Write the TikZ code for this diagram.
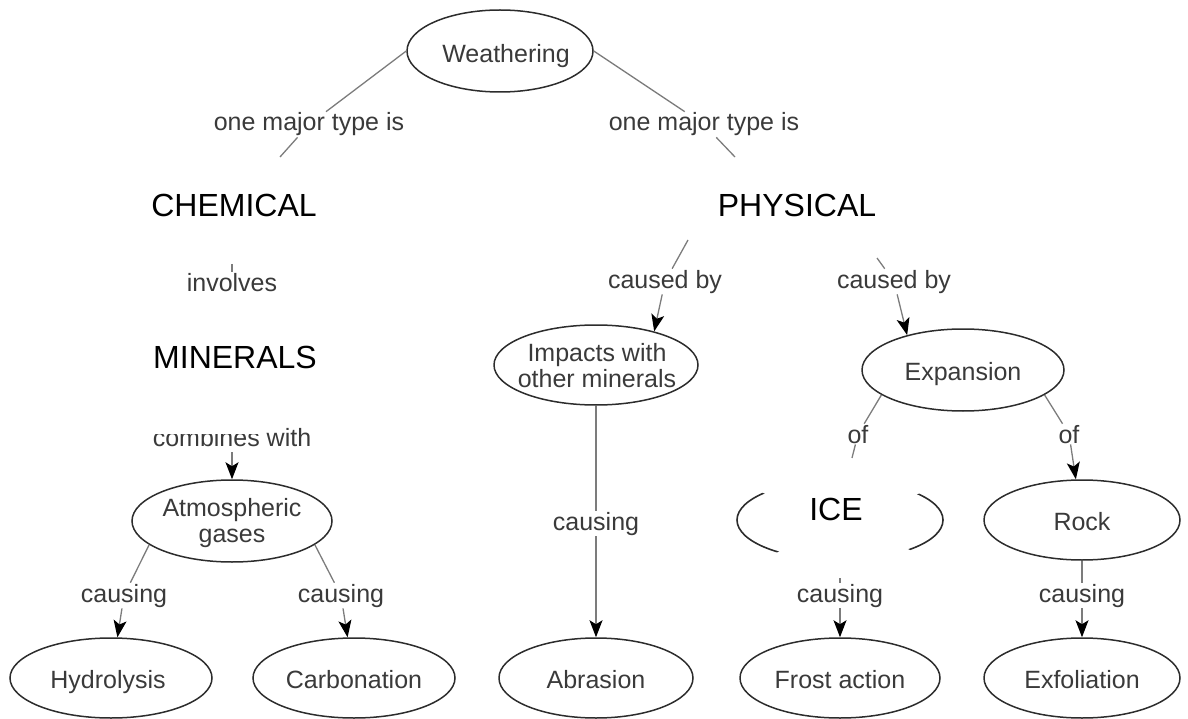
\documentclass[tikz,border=0pt]{standalone}
\usepackage{fontspec}
\setmainfont{Liberation Sans}
\usetikzlibrary{shapes.geometric,arrows.meta}
\definecolor{txtc}{HTML}{3A3A3A}
\definecolor{edgec}{HTML}{2C2C2C}
\definecolor{connc}{HTML}{7C7C7C}
\begin{document}
\begin{tikzpicture}[x=1pt,y=-1pt,
  ell/.style={ellipse, draw=edgec, line width=1.5pt, inner sep=0pt, minimum height=80pt},
  lab/.style={font=\fontsize{25}{27}\selectfont, text=txtc, inner sep=0pt, anchor=base},
  rel/.style={font=\fontsize{25}{27}\selectfont, text=txtc, fill=white, inner sep=1pt, anchor=base},
  big/.style={font=\fontsize{32}{34}\selectfont, text=black, inner sep=0pt, anchor=base},
  conn/.style={draw=connc, line width=1.3pt},
  arr/.style={conn, -{Stealth[length=17pt,width=13pt,inset=4pt,color=black]}}
]
\useasboundingbox (0,0) rectangle (1188,719);

% concept ellipses
\node[ell, minimum width=186pt, minimum height=82pt] (w) at (500,51) {};
\node[lab] (wt) at (506,63) {Weathering};

\node[ell, minimum width=200pt, minimum height=82pt] (atm) at (232,521) {};
\node[lab] (atm1) at (232,516) {Atmospheric};
\node[lab] (atm2) at (232,542) {gases};

\node[ell, minimum width=204pt] (imp) at (596,365) {};
\node[lab] (imp1) at (597,361) {Impacts with};
\node[lab] (imp2) at (597,387) {other minerals};

\node[ell, minimum width=202pt, minimum height=82pt] (exp) at (963,370) {};
\node[lab] (expt) at (963,380) {Expansion};

\node[ell, minimum width=196pt] (rock) at (1082,520) {};
\node[lab] (rockt) at (1082,530) {Rock};

\node[ell, minimum width=202pt] (hyd) at (111,678) {};
\node[lab] (hydt) at (108,688) {Hydrolysis};
\node[ell, minimum width=202pt] (carb) at (354,678) {};
\node[lab] (carbt) at (354,688) {Carbonation};
\node[ell, minimum width=194pt] (abr) at (596,678) {};
\node[lab] (abrt) at (596,688) {Abrasion};
\node[ell, minimum width=200pt] (frost) at (840,678) {};
\node[lab] (frostt) at (840,688) {Frost action};
\node[ell, minimum width=196pt] (exf) at (1082,678) {};
\node[lab] (exft) at (1082,688) {Exfoliation};

% remaining arcs of the ICE ellipse
\begin{scope}
  \clip (840,520) -- (532,412) -- (500,520) -- (568,660) -- cycle;
  \draw[draw=edgec, line width=1.6pt] (840,520) ellipse [x radius=103pt, y radius=40pt];
\end{scope}
\begin{scope}
  \clip (840,520) -- (1140,420) -- (1180,520) -- (1140,648) -- cycle;
  \draw[draw=edgec, line width=1.6pt] (840,520) ellipse [x radius=103pt, y radius=40pt];
\end{scope}

% overlaid words
\node[big] (chem) at (234,217) {CHEMICAL};
\node[big] (phys) at (797,217) {PHYSICAL};
\node[big] (min) at (235,368) {MINERALS};
\node[big] (ice) at (836,520) {ICE};

% free ends of cut connectors
\coordinate (c1) at (280,157);
\coordinate (c2) at (735,157);
\coordinate (s1) at (232,264);
\coordinate (c3) at (688,240);
\coordinate (c4) at (877,258);
\coordinate (c5) at (852,458);
\coordinate (c6) at (840,578);

% linking phrases
\node[rel] (l1) at (309,131) {one major type is};
\node[rel] (l2) at (704,131) {one major type is};
\node[rel] (inv) at (232,291) {involves};
\begin{scope}
  \clip (120,434) -- (262,434) -- (262,405) -- (340,405) -- (340,470) -- (120,470) -- cycle;
  \node[rel] (comb) at (232,446) {combines with};
\end{scope}
\node[rel] (cb1) at (665,288) {caused by};
\node[rel] (cb2) at (894,288) {caused by};
\node[rel] (of1) at (858,443) {of};
\node[rel] (of2) at (1069,443) {of};
\node[rel] (ca1) at (124,602) {causing};
\node[rel] (ca2) at (341,602) {causing};
\node[rel] (ca3) at (596,530) {causing};
\node[rel] (ca4) at (840,602) {causing};
\node[rel] (ca5) at (1082,602) {causing};

% connectors
\draw[conn] (w.west) -- (l1);
\draw[conn] (l1) -- (c1);
\draw[conn] (w.east) -- (l2);
\draw[conn] (l2) -- (c2);
\draw[conn] (s1) -- (inv);
\coordinate (cs) at (232,452);
\draw[arr] (cs) -- (atm);
\draw[conn] (atm.196) -- (ca1);
\draw[arr] (ca1) -- (hyd);
\draw[conn] (atm.344) -- (ca2);
\draw[arr] (ca2) -- (carb);
\draw[conn] (c3) -- (cb1);
\draw[arr] (cb1) -- (imp.30);
\draw[conn] (c4) -- (cb2);
\draw[arr] (cb2) -- (exp.148);
\draw[conn] (imp) -- (ca3);
\draw[arr] (ca3) -- (abr);
\draw[conn] (exp.197) -- (of1);
\draw[conn] (of1) -- (c5);
\draw[conn] (exp.343) -- (of2);
\draw[arr] (of2) -- (rock);
\draw[conn] (c6) -- (ca4);
\draw[arr] (ca4) -- (frost);
\draw[conn] (rock) -- (ca5);
\draw[arr] (ca5) -- (exf);
\end{tikzpicture}
\end{document}
